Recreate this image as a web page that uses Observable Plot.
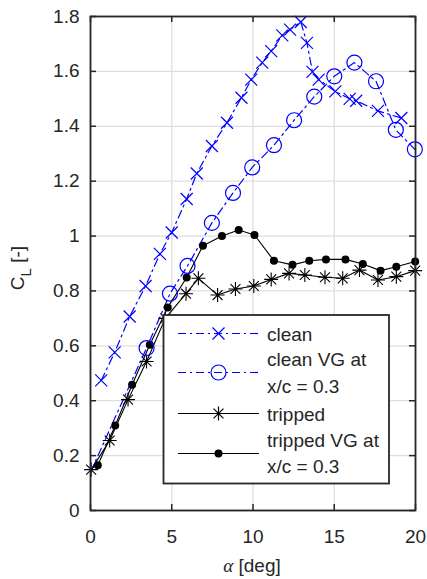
<!DOCTYPE html>
<html>
<head>
<meta charset="utf-8">
<script src="https://cdn.jsdelivr.net/npm/d3@7"></script>
<script src="https://cdn.jsdelivr.net/npm/@observablehq/plot@0.6"></script>
<style>
  html, body { margin: 0; padding: 0; background: white; }
  #wrap { position: relative; width: 427px; height: 579px; }
  #overlay { position: absolute; left: 0; top: 0; pointer-events: none; }
</style>
</head>
<body>
<div id="wrap"></div>
<script>
// ---- data ----
const xTicks = [0, 5, 10, 15, 20];
const yTicks = [0, 0.2, 0.4, 0.6, 0.8, 1, 1.2, 1.4, 1.6, 1.8];

const seriesNames = ["clean", "clean VG at\nx/c = 0.3", "tripped", "tripped VG at\nx/c = 0.3"];

const cleanAlpha = [0.66, 1.49, 2.41, 3.39, 4.27, 5.0, 5.92, 6.54, 7.47, 8.4, 9.29, 9.89, 10.57, 11.12, 11.8, 12.28, 12.94, 13.32, 13.66, 14.04, 15.07, 15.95, 16.35, 17.69, 19.13];
const cleanCL    = [0.474, 0.576, 0.707, 0.818, 0.935, 1.013, 1.135, 1.228, 1.328, 1.413, 1.504, 1.57, 1.632, 1.674, 1.731, 1.752, 1.78, 1.704, 1.598, 1.57, 1.527, 1.50, 1.493, 1.456, 1.43];

const cleanVGAlpha = [0.0, 3.45, 4.89, 5.97, 7.47, 8.77, 9.95, 11.29, 12.53, 13.77, 15.0, 16.24, 17.57, 18.79, 19.96];
const cleanVGCL    = [0.14, 0.592, 0.79, 0.891, 1.048, 1.157, 1.25, 1.331, 1.422, 1.508, 1.582, 1.632, 1.564, 1.387, 1.316];
const cleanVGFirstMarker = 1; // no marker drawn on the first point

const trippedAlpha = [0.04, 1.18, 2.31, 3.45, 4.6, 5.88, 6.64, 7.82, 8.92, 10.05, 11.12, 12.22, 13.19, 14.43, 15.52, 16.55, 17.69, 18.82, 19.98];
const trippedCL    = [0.149, 0.255, 0.404, 0.543, 0.70, 0.79, 0.846, 0.785, 0.807, 0.818, 0.842, 0.864, 0.858, 0.85, 0.846, 0.876, 0.84, 0.852, 0.874];

const trippedVGAlpha = [0.45, 1.52, 2.56, 3.65, 4.75, 5.92, 6.92, 8.09, 9.12, 10.09, 11.29, 12.43, 13.46, 14.49, 15.69, 16.76, 17.85, 18.82, 19.98];
const trippedVGCL    = [0.165, 0.31, 0.458, 0.604, 0.74, 0.849, 0.965, 1.0, 1.022, 1.004, 0.91, 0.895, 0.91, 0.915, 0.915, 0.898, 0.874, 0.888, 0.907];

const toRows = (a, c) => a.map((x, i) => ({a: x, cl: c[i], i}));
const clean = toRows(cleanAlpha, cleanCL);
const cleanVG = toRows(cleanVGAlpha, cleanVGCL);
const tripped = toRows(trippedAlpha, trippedCL);
const trippedVG = toRows(trippedVGAlpha, trippedVGCL);

// ---- marker shapes ----
const timesSym = {draw(ctx, size) { const r = Math.sqrt(size / Math.PI);
  ctx.moveTo(-r, -r); ctx.lineTo(r, r); ctx.moveTo(-r, r); ctx.lineTo(r, -r); }};
const asteriskSym = {draw(ctx, size) { const r = Math.sqrt(size / Math.PI); const d = r * Math.SQRT1_2;
  ctx.moveTo(0, -r); ctx.lineTo(0, r); ctx.moveTo(-r, 0); ctx.lineTo(r, 0);
  ctx.moveTo(-d, -d); ctx.lineTo(d, d); ctx.moveTo(-d, d); ctx.lineTo(d, -d); }};

const BLUE = "#0000ff";
const DASHDOT = "8,4,2,4";
const FONT = "'Liberation Sans', Arial, Helvetica, sans-serif";
const INK = "#262626";

const W = 427, H = 579, ML = 90, MT = 16, MR = 12, MB = 69;
const innerW = W - ML - MR, innerH = H - MT - MB, TICK = 6;

const chart = Plot.plot({
  width: W, height: H,
  marginLeft: ML, marginTop: MT, marginRight: MR, marginBottom: MB,
  x: {domain: [0, 20]},
  y: {domain: [0, 1.8]},
  style: {fontFamily: FONT, fontSize: "19px", color: INK, background: "white"},
  marks: [
    Plot.gridX(xTicks, {stroke: "#dedede", strokeOpacity: 1, strokeWidth: 1.3}),
    Plot.gridY(yTicks, {stroke: "#dedede", strokeOpacity: 1, strokeWidth: 1.3}),
    Plot.line(tripped, {x: "a", y: "cl", stroke: "black", strokeWidth: 1.1}),
    Plot.line(trippedVG, {x: "a", y: "cl", stroke: "black", strokeWidth: 1.1}),
    Plot.line(cleanVG, {x: "a", y: "cl", stroke: BLUE, strokeWidth: 1.2, strokeDasharray: DASHDOT}),
    Plot.line(clean, {x: "a", y: "cl", stroke: BLUE, strokeWidth: 1.2, strokeDasharray: DASHDOT}),
    Plot.dot(tripped, {x: "a", y: "cl", symbol: asteriskSym, r: 7, stroke: "black", strokeWidth: 1.1, fill: "none"}),
    Plot.dot(trippedVG, {x: "a", y: "cl", r: 4, fill: "black", stroke: "none"}),
    Plot.dot(cleanVG.filter(d => d.i >= cleanVGFirstMarker), {x: "a", y: "cl", r: 7.5, stroke: BLUE, strokeWidth: 1.2, fill: "none"}),
    Plot.dot(clean, {x: "a", y: "cl", symbol: timesSym, r: 6, stroke: BLUE, strokeWidth: 1.2, fill: "none"}),
    // inside tick marks on all four sides
    Plot.ruleX(xTicks, {insetTop: innerH - TICK, stroke: INK, strokeWidth: 1.5}),
    Plot.ruleX(xTicks, {insetBottom: innerH - TICK, stroke: INK, strokeWidth: 1.5}),
    Plot.ruleY(yTicks, {insetRight: innerW - TICK, stroke: INK, strokeWidth: 1.5}),
    Plot.ruleY(yTicks, {insetLeft: innerW - TICK, stroke: INK, strokeWidth: 1.5}),
    Plot.frame({stroke: INK, strokeWidth: 1.8}),
    Plot.axisX({ticks: xTicks, anchor: "bottom", tickSize: 0, tickPadding: 19, tickFormat: d => String(d), label: null, fill: INK}),
    Plot.axisY({ticks: yTicks, anchor: "left", tickSize: 0, tickPadding: 11, tickFormat: d => String(d), label: null, fill: INK})
  ]
});
document.getElementById("wrap").appendChild(chart);

// ---- overlay: axis titles and legend box ----
const ov = d3.select("#wrap").append("svg").attr("id", "overlay")
  .attr("width", W).attr("height", H)
  .style("font-family", FONT).style("font-size", "19px");

// y title: C_L [-]
const yt = ov.append("text").attr("transform", "translate(24,268) rotate(-90)")
  .attr("text-anchor", "middle").attr("fill", INK);
yt.append("tspan").text("C");
yt.append("tspan").attr("dy", 7).attr("font-size", "15px").text("L");
yt.append("tspan").attr("dy", -7).text(" [-]");

// x title: α [deg]
const xt = ov.append("text").attr("x", 252).attr("y", 572).attr("text-anchor", "middle").attr("fill", INK);
xt.append("tspan").attr("font-family", "'Liberation Serif', 'DejaVu Serif', serif").attr("font-style", "italic").text("α");
xt.append("tspan").text(" [deg]");

// legend
const L = {x0: 163.5, y0: 315, x1: 389, y1: 483.5};
ov.append("rect").attr("x", L.x0).attr("y", L.y0).attr("width", L.x1 - L.x0).attr("height", L.y1 - L.y0)
  .attr("fill", "white").attr("stroke", INK).attr("stroke-width", 1.8);
const entries = [
  {name: seriesNames[0], ly: 333.5, tys: [341], stroke: BLUE, dash: DASHDOT, sym: timesSym, r: 6, fill: "none"},
  {name: seriesNames[1], ly: 372.5, tys: [366, 393], stroke: BLUE, dash: DASHDOT, sym: d3.symbolCircle, r: 7.5, fill: "none"},
  {name: seriesNames[2], ly: 413.5, tys: [420.5], stroke: "black", dash: null, sym: asteriskSym, r: 7, fill: "none"},
  {name: seriesNames[3], ly: 453.5, tys: [447, 473], stroke: "black", dash: null, sym: d3.symbolCircle, r: 4, fill: "black"}
];
for (const e of entries) {
  ov.append("line").attr("x1", 178).attr("x2", 259).attr("y1", e.ly).attr("y2", e.ly)
    .attr("stroke", e.stroke).attr("stroke-width", 1.2).attr("stroke-dasharray", e.dash);
  ov.append("path").attr("transform", `translate(218.5,${e.ly})`)
    .attr("d", d3.symbol(e.sym, Math.PI * e.r * e.r)())
    .attr("fill", e.fill).attr("stroke", e.fill === "none" ? e.stroke : "none").attr("stroke-width", 1.2);
  e.name.split("\n").forEach((line, k) => {
    ov.append("text").attr("x", 267).attr("y", e.tys[k]).attr("fill", INK).text(line);
  });
}
</script>
</body>
</html>
